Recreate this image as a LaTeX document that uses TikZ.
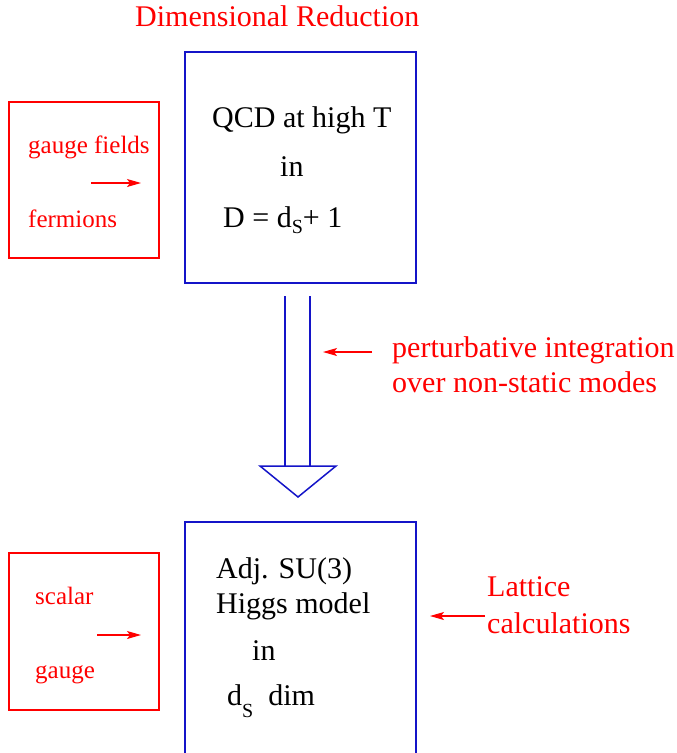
\documentclass[tikz,border=0pt]{standalone}
\usepackage{fontspec}
\setmainfont{Liberation Serif}
\usetikzlibrary{arrows.meta}
\definecolor{qcdblue}{RGB}{20,20,200}
% lowered subscript letter
\newcommand{\lowsub}[2]{\raisebox{-#2}{\fontsize{20}{20}\selectfont #1}}

\begin{document}
\begin{tikzpicture}[x=1pt, y=-1pt, >={Stealth[length=14pt, width=8pt, inset=3pt]},
	every node/.style={inner sep=0pt, font=\fontsize{30}{35}\selectfont},
	bluebox/.style={draw=qcdblue, line width=1.5pt},
	redbox/.style={draw=red, line width=1.2pt},
	redtxt/.style={text=red},
	smalltxt/.style={text=red, font=\fontsize{25}{30}\selectfont},
	redarrow/.style={->, red, line width=1.2pt}]
	\useasboundingbox (0,0) rectangle (677,753);
	
	% 1. title
	\node[redtxt, anchor=base west] (title) at (135,26) {Dimensional Reduction};
	
	% 2. upper box (D dimensions)
	\node[bluebox, minimum width=231pt, minimum height=231pt] (hot) at (300.5,167.5) {};
	\node[anchor=base west] (qcd) at (212,127) {QCD at high T};
	\node[anchor=base west] (in1) at (280,176) {in};
	\node[anchor=base west] (dimD) at (223,227) {D = d\lowsub{S}{6pt}+ 1};
	
	\node[redbox, minimum width=150pt, minimum height=156pt] (fields) at (84,180) {};
	\node[smalltxt, anchor=base west] (gf) at (28,153) {gauge fields};
	\node[smalltxt, anchor=base west] (ferm) at (28,227) {fermions};
	\coordinate (gf-s) at (91,183);
	\coordinate (gf-e) at (141,183);
	\draw[redarrow] (gf-s) -- (gf-e);
	
	% 3. reduction arrow
	\draw[bluebox] (285,296) -- (285,466);
	\draw[bluebox] (310,296) -- (310,466);
	\draw[bluebox] (260,466) -- (336,466) -- (298,497) -- cycle;
	
	\node[redtxt, anchor=base west, align=left] (pert) at (392,392) {perturbative integration\\over non-static modes};
	\coordinate (pert-s) at (372,352);
	\coordinate (pert-e) at (323,352);
	\draw[redarrow] (pert-s) -- (pert-e);
	
	% 4. lower box (d_s dimensions)
	\draw[bluebox] (185,753) -- (185,522) -- (416,522) -- (416,753);
	\node[anchor=base west, align=left] (adj) at (216,613) {Adj. SU(3)\\Higgs model};
	\node[anchor=base west] (in2) at (252,660) {in};
	\node[anchor=base west] (dims) at (227,705) {d\lowsub{S}{12pt}\hspace{15pt}dim};
	
	\node[redbox, minimum width=150pt, minimum height=157pt] (eff) at (84,631.5) {};
	\node[smalltxt, anchor=base west] (sc) at (35,604) {scalar};
	\node[smalltxt, anchor=base west] (ga) at (35,678) {gauge};
	\coordinate (sc-s) at (97,635);
	\coordinate (sc-e) at (141,635);
	\draw[redarrow] (sc-s) -- (sc-e);
	
	% 5. lattice
	\node[redtxt, anchor=base west, align=left] (latt) at (487,633) {Lattice\\[2pt]calculations};
	\coordinate (latt-s) at (485,616);
	\coordinate (latt-e) at (430,616);
	\draw[redarrow] (latt-s) -- (latt-e);
\end{tikzpicture}
\end{document}
